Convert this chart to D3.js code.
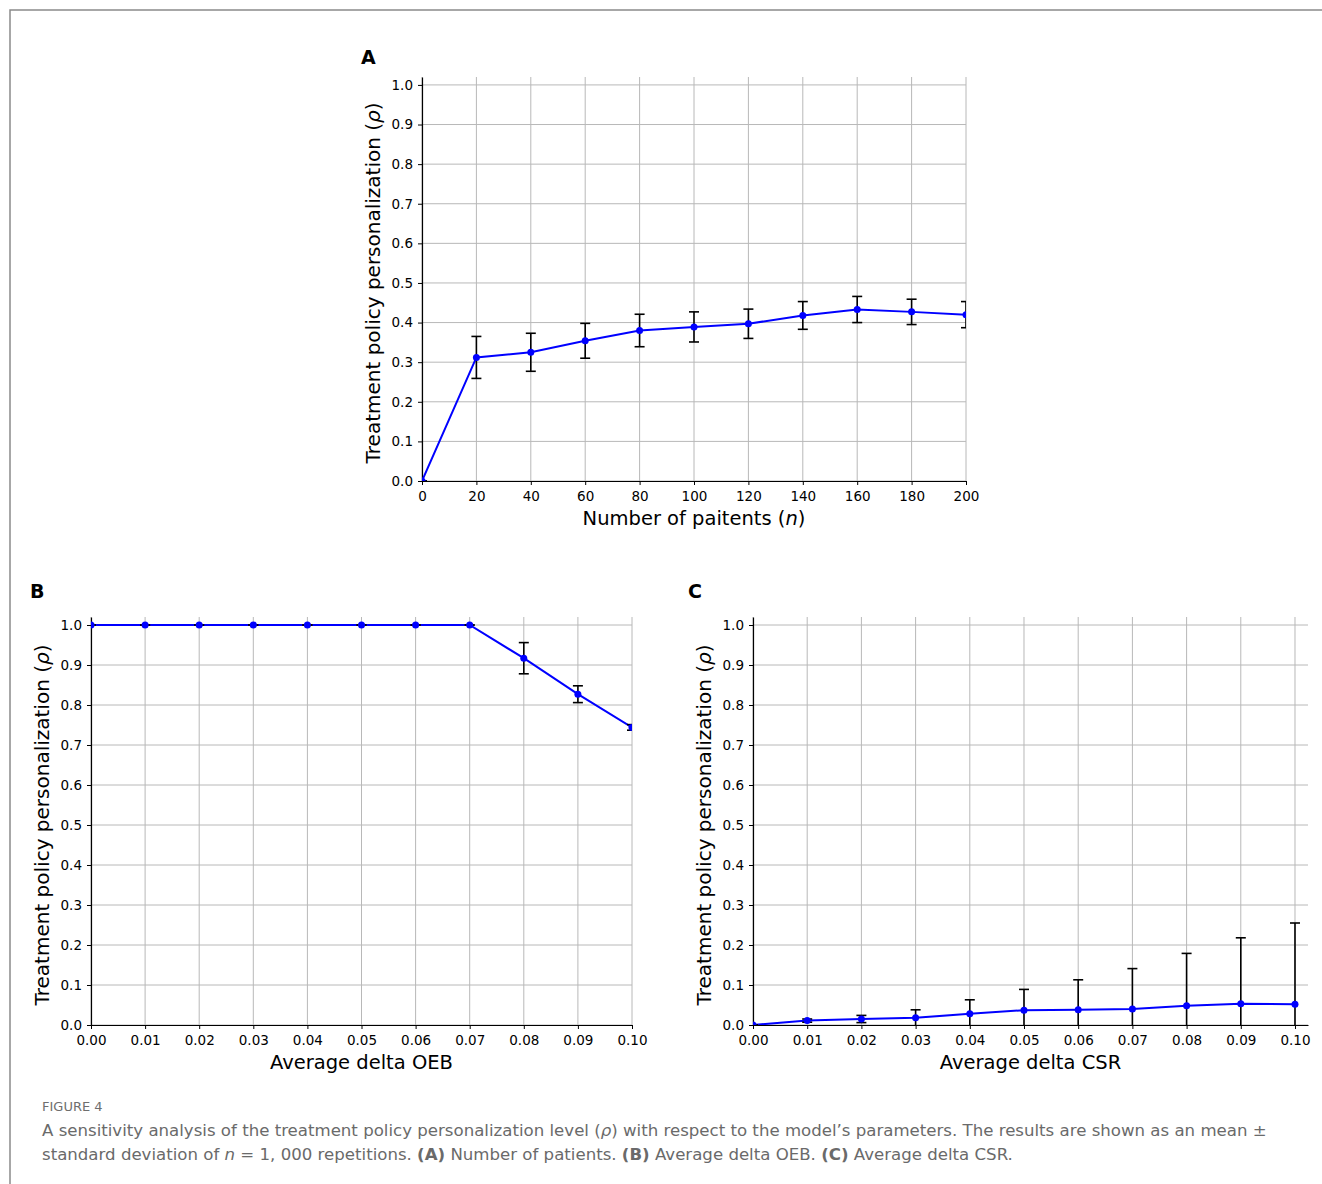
<!DOCTYPE html>
<html>
<head>
<meta charset="utf-8">
<script src="https://cdn.jsdelivr.net/npm/d3@7"></script>
<style>
  body { margin: 0; background: #fff; }
  svg text { font-family: "DejaVu Sans", sans-serif; }
  .grid line { stroke: #b8b8b8; stroke-width: 1; }
  .caption { font-family: "Noto Sans", sans-serif; }
</style>
</head>
<body>
<svg id="fig" width="1322" height="1184"></svg>
<script>
// Panel A: number of patients
const nPatients = [0, 20, 40, 60, 80, 100, 120, 140, 160, 180, 200];
const rhoPatientsMean = [0, 0.312, 0.325, 0.354, 0.380, 0.389, 0.397, 0.418, 0.433, 0.427, 0.420];
const rhoPatientsSd = [0, 0.053, 0.048, 0.044, 0.041, 0.038, 0.037, 0.035, 0.033, 0.032, 0.033];

// Panel B: average delta OEB
const deltaOeb = [0, 0.01, 0.02, 0.03, 0.04, 0.05, 0.06, 0.07, 0.08, 0.09, 0.10];
const rhoOebMean = [1, 1, 1, 1, 1, 1, 1, 1, 0.917, 0.827, 0.744];
const rhoOebSd = [0, 0, 0, 0, 0, 0, 0, 0, 0.039, 0.021, 0.007];

// Panel C: average delta CSR
const deltaCsr = [0, 0.01, 0.02, 0.03, 0.04, 0.05, 0.06, 0.07, 0.08, 0.09, 0.10];
const rhoCsrMean = [0, 0.011, 0.015, 0.018, 0.028, 0.037, 0.038, 0.040, 0.048, 0.053, 0.052];
const rhoCsrSd = [0, 0.004, 0.009, 0.020, 0.035, 0.052, 0.075, 0.101, 0.131, 0.165, 0.203];

const yTicks = [0, 0.1, 0.2, 0.3, 0.4, 0.5, 0.6, 0.7, 0.8, 0.9, 1.0];
const patientTicks = nPatients;
const deltaTicks = deltaOeb;

const svg = d3.select('#fig');

// figure frame (left + top edge)
svg.append('path')
  .attr('d', 'M10,1184 V10 H1322')
  .attr('fill', 'none')
  .attr('stroke', '#8a8a8a')
  .attr('stroke-width', 1.5);

function drawPanel(cfg) {
  const x = d3.scaleLinear().domain(cfg.xDomain).range([cfg.left, cfg.right]);
  const y = d3.scaleLinear().domain([0, 1.02]).range([cfg.bottom, cfg.top]);
  const g = svg.append('g');

  const clipId = 'clip-' + cfg.letter;
  svg.append('clipPath').attr('id', clipId)
    .append('rect')
    .attr('x', cfg.left).attr('y', cfg.top)
    .attr('width', cfg.right - cfg.left).attr('height', cfg.bottom - cfg.top);

  // grid
  const grid = g.append('g').attr('class', 'grid');
  grid.selectAll('.gx').data(cfg.xTicks).enter().append('line')
    .attr('x1', d => x(d)).attr('x2', d => x(d))
    .attr('y1', cfg.top).attr('y2', cfg.bottom);
  grid.selectAll('.gy').data(yTicks).enter().append('line')
    .attr('x1', cfg.left).attr('x2', cfg.right)
    .attr('y1', d => y(d)).attr('y2', d => y(d));

  // axes
  const xAxis = d3.axisBottom(x).tickValues(cfg.xTicks).tickFormat(d3.format(cfg.xFormat))
    .tickSizeOuter(0).tickSizeInner(4).tickPadding(6);
  const yAxis = d3.axisLeft(y).tickValues(yTicks).tickFormat(d3.format('.1f'))
    .tickSizeOuter(0).tickSizeInner(4).tickPadding(5);
  g.append('g').attr('transform', `translate(0,${cfg.bottom})`).call(xAxis)
    .attr('font-family', '"DejaVu Sans", sans-serif').attr('font-size', 13.5)
    .call(a => a.select('.domain').attr('stroke-width', 1.2));
  g.append('g').attr('transform', `translate(${cfg.left},0)`).call(yAxis)
    .attr('font-family', '"DejaVu Sans", sans-serif').attr('font-size', 13.5)
    .call(a => a.select('.domain').attr('stroke-width', 1.2));

  // data
  const pts = cfg.xs.map((v, i) => ({ x: v, m: cfg.mean[i], s: cfg.sd[i] }));
  const plot = g.append('g').attr('clip-path', `url(#${clipId})`);

  plot.append('path')
    .datum(pts)
    .attr('fill', 'none')
    .attr('stroke', '#0000ff')
    .attr('stroke-width', 2)
    .attr('d', d3.line().x(d => x(d.x)).y(d => y(d.m)));

  const eb = plot.append('g').attr('stroke', '#000').attr('stroke-width', 1.6);
  eb.selectAll('.v').data(pts).enter().append('line')
    .attr('x1', d => x(d.x)).attr('x2', d => x(d.x))
    .attr('y1', d => y(d.m - d.s)).attr('y2', d => y(d.m + d.s));
  [-1, 1].forEach(sign => {
    eb.selectAll('.c' + sign).data(pts).enter().append('line')
      .attr('x1', d => x(d.x) - 5).attr('x2', d => x(d.x) + 5)
      .attr('y1', d => y(d.m + sign * d.s)).attr('y2', d => y(d.m + sign * d.s));
  });

  plot.selectAll('circle').data(pts).enter().append('circle')
    .attr('cx', d => x(d.x)).attr('cy', d => y(d.m))
    .attr('r', 3.5).attr('fill', '#0000ff');

  // labels
  g.append('text')
    .attr('x', cfg.letterX).attr('y', cfg.letterY)
    .attr('font-size', 19).attr('font-weight', 'bold')
    .text(cfg.letter);

  const xl = g.append('text')
    .attr('x', (cfg.left + cfg.right) / 2)
    .attr('y', cfg.bottom + 44)
    .attr('text-anchor', 'middle')
    .attr('font-size', 19.5);
  cfg.xLabel.forEach(part => xl.append('tspan').attr('font-style', part.italic ? 'italic' : null).text(part.t));

  const yl = g.append('text')
    .attr('transform', `translate(${cfg.left - 42},${y(0.5)}) rotate(-90)`)
    .attr('text-anchor', 'middle')
    .attr('font-size', 20);
  yl.append('tspan').text('Treatment policy personalization (');
  yl.append('tspan').attr('font-style', 'italic').text('ρ');
  yl.append('tspan').text(')');
}

drawPanel({
  letter: 'A', letterX: 361, letterY: 64,
  left: 422, right: 966, top: 77, bottom: 481,
  xDomain: [0, 200], xTicks: patientTicks, xFormat: 'd',
  xs: nPatients, mean: rhoPatientsMean, sd: rhoPatientsSd,
  xLabel: [{ t: 'Number of paitents (' }, { t: 'n', italic: true }, { t: ')' }]
});

drawPanel({
  letter: 'B', letterX: 30, letterY: 598,
  left: 91, right: 632, top: 617, bottom: 1025,
  xDomain: [0, 0.1], xTicks: deltaTicks, xFormat: '.2f',
  xs: deltaOeb, mean: rhoOebMean, sd: rhoOebSd,
  xLabel: [{ t: 'Average delta OEB' }]
});

drawPanel({
  letter: 'C', letterX: 688, letterY: 598,
  left: 753, right: 1308, top: 617, bottom: 1025,
  xDomain: [0, 0.1024], xTicks: deltaTicks, xFormat: '.2f',
  xs: deltaCsr, mean: rhoCsrMean, sd: rhoCsrSd,
  xLabel: [{ t: 'Average delta CSR' }]
});

// caption
const cap = svg.append('g').attr('class', 'caption');
cap.append('text').attr('x', 42).attr('y', 1111)
  .attr('font-size', 13).attr('fill', '#6e6e6e').text('FIGURE 4');
const l1 = cap.append('text').attr('x', 42).attr('y', 1136)
  .attr('font-size', 16.6).attr('fill', '#6a6a6a');
l1.append('tspan').text('A sensitivity analysis of the treatment policy personalization level (');
l1.append('tspan').attr('font-style', 'italic').text('ρ');
l1.append('tspan').text(') with respect to the model’s parameters. The results are shown as an mean ±');
const l2 = cap.append('text').attr('x', 42).attr('y', 1160)
  .attr('font-size', 16.6).attr('fill', '#6a6a6a');
l2.append('tspan').text('standard deviation of ');
l2.append('tspan').attr('font-style', 'italic').text('n');
l2.append('tspan').text(' = 1, 000 repetitions. ');
l2.append('tspan').attr('font-weight', 'bold').text('(A)');
l2.append('tspan').text(' Number of patients. ');
l2.append('tspan').attr('font-weight', 'bold').text('(B)');
l2.append('tspan').text(' Average delta OEB. ');
l2.append('tspan').attr('font-weight', 'bold').text('(C)');
l2.append('tspan').text(' Average delta CSR.');
</script>
</body>
</html>
